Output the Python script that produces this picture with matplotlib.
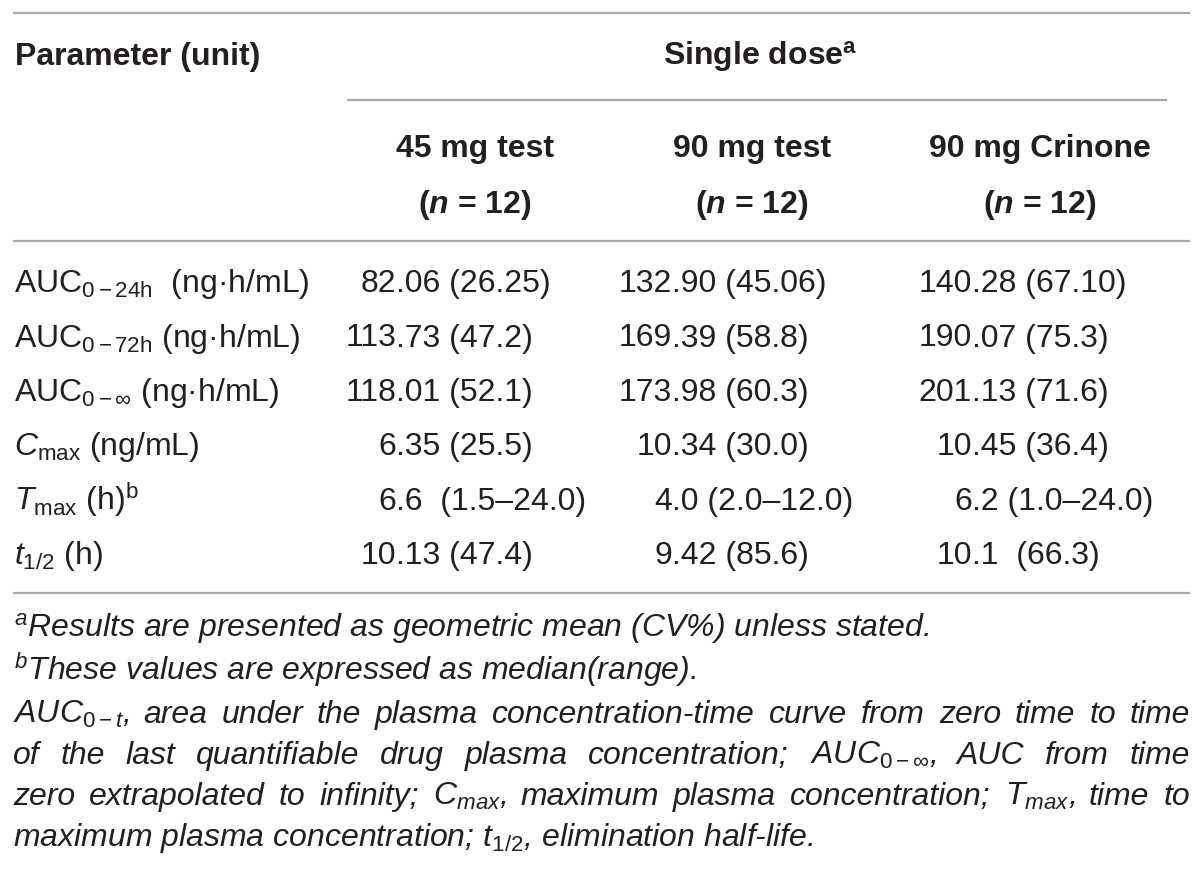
import matplotlib
matplotlib.use("Agg")
import matplotlib.pyplot as plt

plt.rcParams['font.family'] = ['Liberation Sans', 'DejaVu Sans']
plt.rcParams['mathtext.fontset'] = 'custom'
plt.rcParams['mathtext.rm'] = 'Liberation Sans'
plt.rcParams['mathtext.it'] = 'Liberation Sans:italic'
plt.rcParams['mathtext.bf'] = 'Liberation Sans:bold'
plt.rcParams['mathtext.bfit'] = 'Liberation Sans:italic:bold'
plt.rcParams['mathtext.sf'] = 'Liberation Sans'
plt.rcParams['mathtext.fallback'] = 'stixsans'

# table content
span_title = r'Single dose$^{\mathbf{a}}$'
groups = ['45 mg test', '90 mg test', '90 mg Crinone']
n_subjects = [12, 12, 12]
parameters = [
    r'AUC$_{\mathrm{0-24h}}$  (ng·h/mL)',
    r'AUC$_{\mathrm{0-72h}}$ (ng·h/mL)',
    r'AUC$_{\mathrm{0-\infty}}$ (ng·h/mL)',
    r'$C_{\mathrm{max}}$ (ng/mL)',
    r'$T_{\mathrm{max}}$ (h)$^{\mathrm{b}}$',
    r'$t_{\mathrm{1/2}}$ (h)',
]
col_45_test = ['82.06 (26.25)', '113.73 (47.2)', '118.01 (52.1)',
               '6.35 (25.5)', '6.6  (1.5–24.0)', '10.13 (47.4)']
col_90_test = ['132.90 (45.06)', '169.39 (58.8)', '173.98 (60.3)',
               '10.34 (30.0)', '4.0 (2.0–12.0)', '9.42 (85.6)']
col_90_crinone = ['140.28 (67.10)', '190.07 (75.3)', '201.13 (71.6)',
                  '10.45 (36.4)', '6.2 (1.0–24.0)', '10.1  (66.3)']
footnotes_left = [
    r'$^{\mathit{a}}$Results are presented as geometric mean (CV%) unless stated.',
    r'$^{\mathit{b}}$These values are expressed as median(range).',
]
footnotes_justified = [
    r'AUC$_{\mathit{0-t}}$, area under the plasma concentration-time curve from zero time to time',
    r'of the last quantifiable drug plasma concentration; AUC$_{\mathit{0-\infty}}$, AUC from time',
    r'zero extrapolated to infinity; C$_{\mathit{max}}$, maximum plasma concentration; T$_{\mathit{max}}$, time to',
]
footnote_last = r'maximum plasma concentration; t$_{\mathit{1/2}}$, elimination half-life.'

# layout (pixels)
txt = '#231f20'
rule = '#a8a8a8'
fs = 23
fs_note = 23
x_left, x_right = 13, 1190
col_centers = [475, 752, 1040]
decimal_x = [396, 672, 972]
row_y = [292, 346.5, 401, 455, 510, 564]
note_y = [637, 680, 723, 764, 805, 846]

fig = plt.figure(figsize=(12, 8.73), dpi=100)
ax = fig.add_axes([0, 0, 1, 1])
ax.set_xlim(0, 1200)
ax.set_ylim(873, 0)
ax.axis('off')

# rules
ax.hlines([13, 241, 593], x_left, x_right, color=rule, lw=1.6)
ax.hlines(100, 347, 1167, color=rule, lw=1.6)

# header
ax.text(15, 65, 'Parameter (unit)', fontsize=fs, fontweight='bold',
        color=txt, va='baseline', ha='left')
ax.text(760, 65, span_title, fontsize=fs, fontweight='bold',
        color=txt, va='baseline', ha='center')
for cx, g, n in zip(col_centers, groups, n_subjects):
    ax.text(cx, 157, g, fontsize=fs, fontweight='bold', color=txt,
            va='baseline', ha='center')
    ax.text(cx, 213, r'($\mathbfit{n}$ = %d)' % n, fontsize=fs,
            fontweight='bold', color=txt, va='baseline', ha='center')

# body
for y, p in zip(row_y, parameters):
    ax.text(14, y, p, fontsize=fs, color=txt, va='baseline', ha='left')

for dx, col in zip(decimal_x, [col_45_test, col_90_test, col_90_crinone]):
    for y, v in zip(row_y, col):
        whole, rest = v.split('.', 1)
        ax.text(dx, y, whole, fontsize=fs, color=txt, va='baseline', ha='right')
        ax.text(dx, y, '.' + rest, fontsize=fs, color=txt, va='baseline', ha='left')

# footnotes
note_kw = dict(fontsize=fs_note, style='italic', color=txt, va='baseline')
for y, s in zip(note_y[:2], footnotes_left):
    ax.text(14, y, s, ha='left', **note_kw)

renderer = fig.canvas.get_renderer()
for y, s in zip(note_y[2:5], footnotes_justified):
    words = s.split(' ')
    items = [ax.text(0, y, w, ha='left', **note_kw) for w in words]
    widths = [t.get_window_extent(renderer).width for t in items]
    gap = (x_right - x_left - sum(widths)) / (len(words) - 1)
    x = x_left
    for t, w in zip(items, widths):
        t.set_x(x)
        x += w + gap

ax.text(x_left, note_y[5], footnote_last, ha='left', **note_kw)

fig.savefig('out.png', dpi=100, facecolor='white')
